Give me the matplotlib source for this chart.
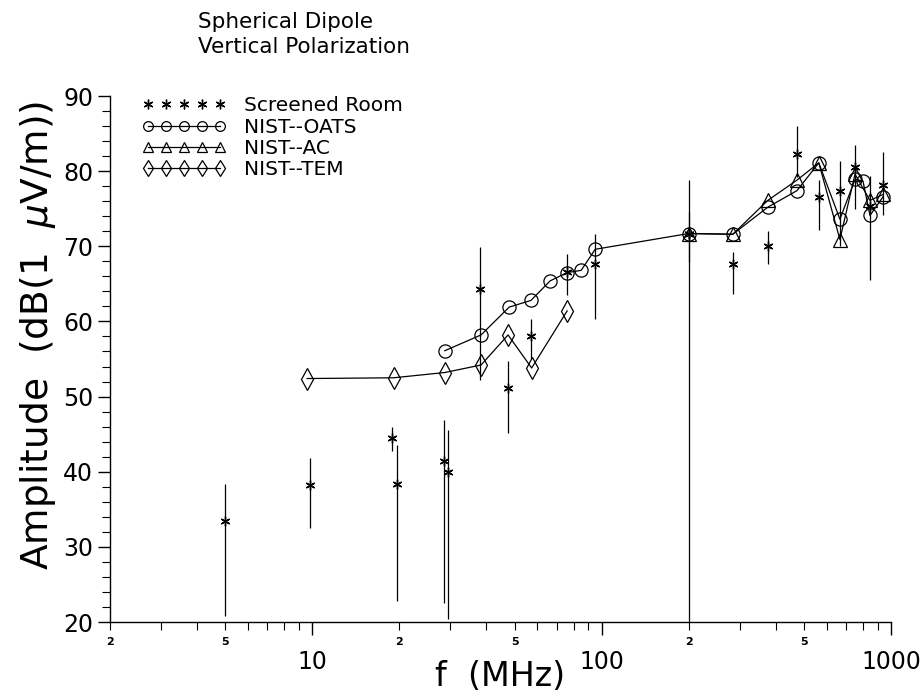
import numpy as np
import matplotlib
matplotlib.use('Agg')
import matplotlib.pyplot as plt
from matplotlib.lines import Line2D
from matplotlib.ticker import FixedLocator, FixedFormatter, NullFormatter

# Screened Room: frequency (MHz), amplitude, error bar low / high
room_f = [5, 9.8, 18.8, 19.7, 28.5, 29.4, 38, 47.5, 57, 76, 95, 200, 200, 284, 375, 473, 563, 666, 751, 846, 939]
room_amp = [33.4, 38.2, 44.5, 38.4, 41.4, 40.0, 64.3, 51.2, 58.1, 66.6, 67.7, 71.7, 71.7, 67.6, 70.1, 82.3, 76.5, 77.4, 80.5, 75.4, 78.1]
room_lo = [20.8, 32.5, 42.7, 22.8, 22.5, 20.4, 52.2, 45.1, 55.0, 63.5, 60.3, 20.0, 67.9, 63.6, 67.6, 79.2, 72.2, 70.1, 75.0, 65.5, 74.1]
room_hi = [38.3, 41.8, 46.0, 43.6, 46.9, 45.6, 69.9, 54.7, 60.3, 69.0, 71.6, 78.8, 74.5, 69.2, 72.1, 86.0, 78.8, 81.4, 83.5, 79.4, 82.5]

# NIST open area test site
oats_f = [28.7, 38.3, 47.9, 57, 66.4, 76, 85, 95, 200, 284, 375, 473, 563, 666, 751, 800, 846, 939]
oats_amp = [56.1, 58.2, 61.9, 62.8, 65.4, 66.5, 66.8, 69.6, 71.7, 71.6, 75.2, 77.4, 81.1, 73.6, 78.9, 78.7, 74.1, 76.6]

# NIST anechoic chamber
ac_f = [200, 284, 375, 473, 563, 666, 751, 846, 939]
ac_amp = [71.7, 71.6, 76.1, 78.8, 81.1, 70.9, 79.6, 76.1, 76.9]

# NIST TEM cell
tem_f = [9.6, 19.1, 28.7, 38.3, 47.5, 57.3, 76]
tem_amp = [52.4, 52.5, 53.2, 54.2, 58.2, 53.8, 61.4]

plt.rcParams['font.family'] = ['DejaVu Sans']

fig = plt.figure(figsize=(9.21, 7), dpi=100)
ax = fig.add_axes([110 / 921, 1 - 622 / 700, 781 / 921, 526 / 700])

star = (6, 2, 0)
room_f = np.array(room_f)
room_amp = np.array(room_amp)
yerr = [room_amp - np.array(room_lo), np.array(room_hi) - room_amp]
ax.errorbar(room_f, room_amp, yerr=yerr, fmt='none', ecolor='black', elinewidth=0.9, capsize=0)
ax.plot(room_f, room_amp, linestyle='none', marker=star, ms=7, mew=1.0, color='black')

ax.plot(oats_f, oats_amp, '-', color='black', lw=0.9, marker='o', ms=9.5,
        mfc='none', mec='black', mew=0.9)
ax.plot(ac_f, ac_amp, '-', color='black', lw=0.9, marker='^', ms=9.5,
        mfc='none', mec='black', mew=0.9)
ax.plot(tem_f, tem_amp, '-', color='black', lw=0.9, marker='d', ms=11,
        mfc='none', mec='black', mew=0.9)

ax.set_xscale('log')
ax.set_xlim(2, 1000)
ax.set_ylim(20, 90)

for side in ['top', 'right']:
    ax.spines[side].set_visible(False)
for side in ['left', 'bottom']:
    ax.spines[side].set_linewidth(1.0)

# x ticks: decades labelled large, 2 and 5 labelled small
ax.xaxis.set_major_locator(FixedLocator([10, 100, 1000]))
ax.xaxis.set_major_formatter(FixedFormatter(['10', '100', '1000']))
minor_x = [m * d for d in [1, 10, 100] for m in range(2, 10) if 2 <= m * d < 1000]
minor_lab = ['2' if str(int(v))[0] == '2' else '5' if str(int(v))[0] == '5' else '' for v in minor_x]
ax.xaxis.set_minor_locator(FixedLocator(minor_x))
ax.xaxis.set_minor_formatter(FixedFormatter(minor_lab))
ax.tick_params(axis='x', which='major', direction='out', length=9, width=1, labelsize=17, pad=11)
ax.tick_params(axis='x', which='minor', direction='out', length=6, width=0.8, labelsize=8, pad=5)
for lab in ax.xaxis.get_minorticklabels():
    lab.set_fontweight('bold')

ax.yaxis.set_major_locator(FixedLocator(range(20, 91, 10)))
ax.yaxis.set_minor_locator(FixedLocator(range(20, 91, 2)))
ax.yaxis.set_minor_formatter(NullFormatter())
ax.tick_params(axis='y', which='major', direction='out', length=9, width=1, labelsize=17, pad=3)
ax.tick_params(axis='y', which='minor', direction='out', length=6, width=0.8)

ax.set_xlabel('f  (MHz)', fontsize=24, labelpad=-10)
fig.text(38 / 921, 1 - 335 / 700, r'Amplitude  (dB(1  $\mu$V/m))', rotation=90,
         fontsize=27, ha='center', va='center')

fig.text(198 / 921, 1 - 28 / 700, 'Spherical Dipole', fontsize=15.5, ha='left', va='baseline')
fig.text(198 / 921, 1 - 53 / 700, 'Vertical Polarization', fontsize=15.5, ha='left', va='baseline')

handles = [
    Line2D([], [], linestyle='none', marker=star, ms=7, mew=1.0, color='black'),
    Line2D([], [], linestyle='-', lw=0.9, color='black', marker='o', ms=7, mfc='none', mew=0.9),
    Line2D([], [], linestyle='-', lw=0.9, color='black', marker='^', ms=7, mfc='none', mew=0.9),
    Line2D([], [], linestyle='-', lw=0.9, color='black', marker='d', ms=8, mfc='none', mew=0.9),
]
labels = ['Screened Room', 'NIST--OATS', 'NIST--AC', 'NIST--TEM']
ax.legend(handles, labels, loc='upper left', bbox_to_anchor=(0.03, 1.015), frameon=False,
          numpoints=5, handlelength=4.2, handletextpad=0.9, labelspacing=0.12,
          fontsize=14.5, borderaxespad=0)

fig.savefig('out.png', dpi=100)
